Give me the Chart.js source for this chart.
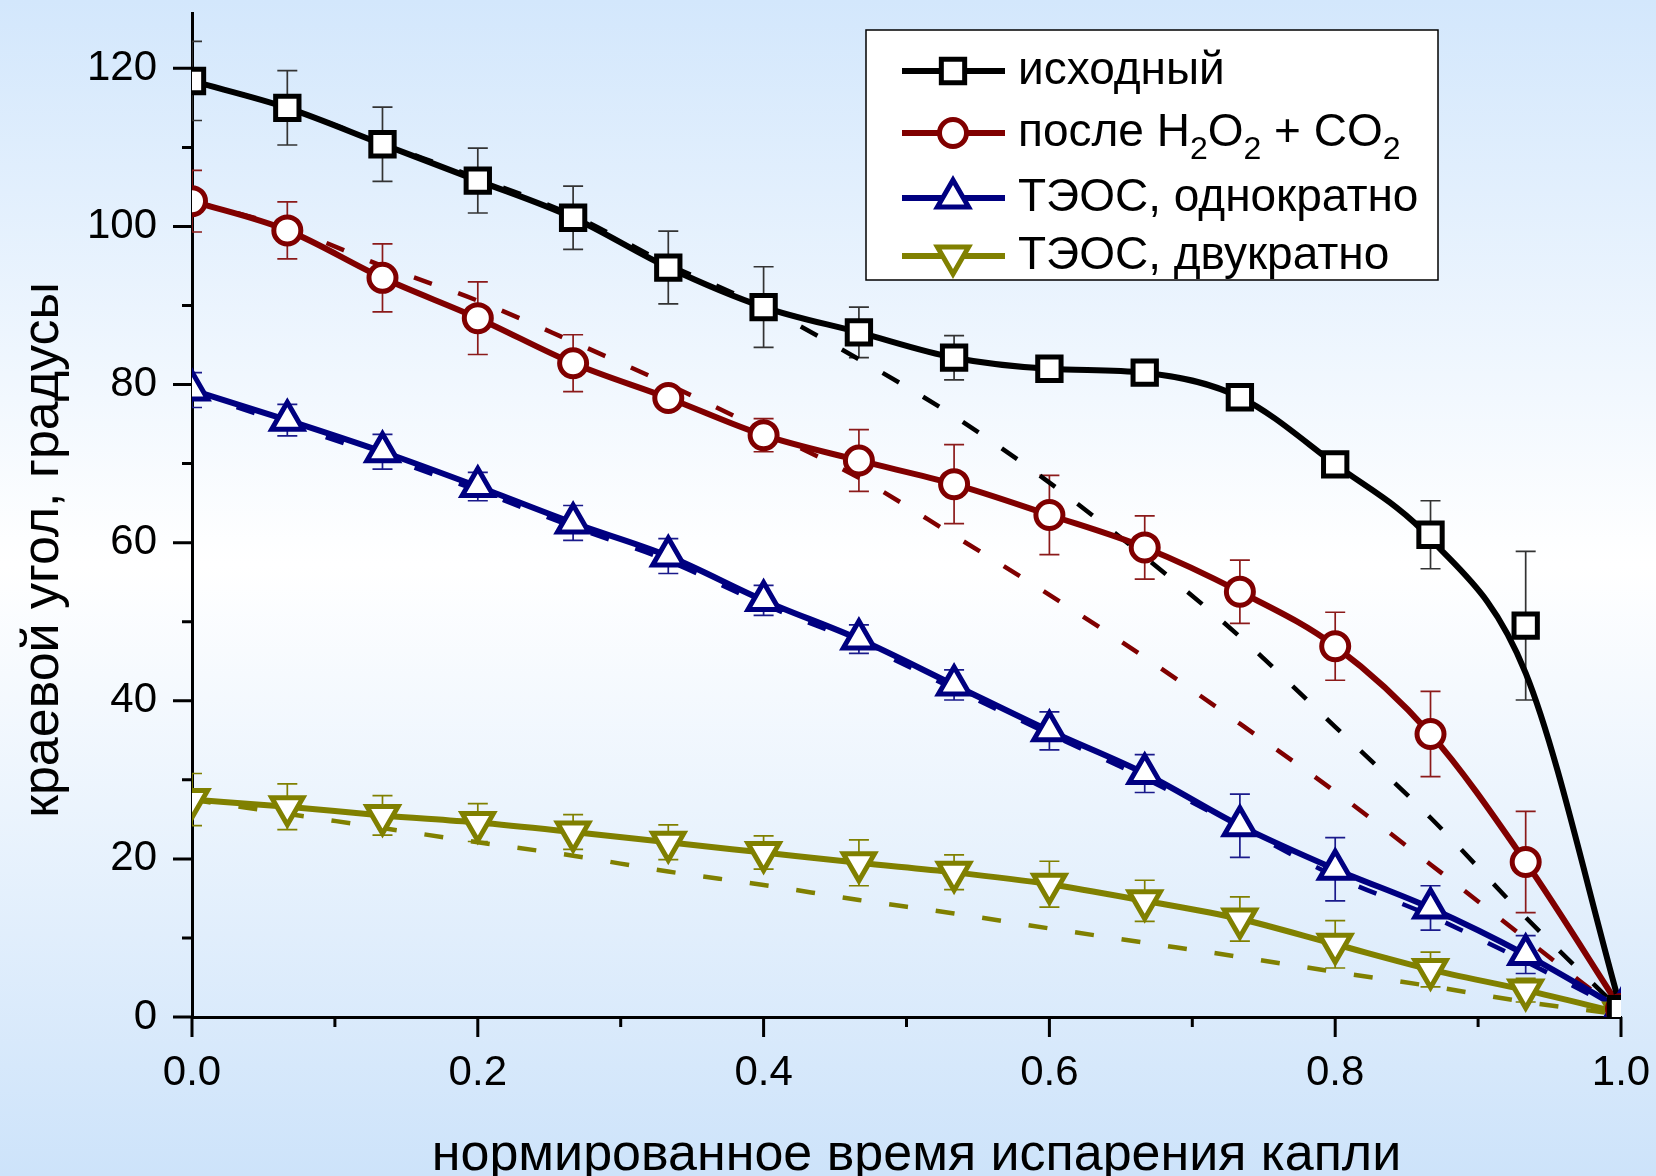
<!DOCTYPE html>
<html>
<head>
<meta charset="utf-8">
<script src="https://cdn.jsdelivr.net/npm/chart.js@4.4.1/dist/chart.umd.min.js"></script>
<style>
  html, body { margin: 0; padding: 0; }
  body { width: 1656px; height: 1176px; overflow: hidden; }
</style>
</head>
<body>
<canvas id="chart" width="1656" height="1176"></canvas>
<script>
// normalized evaporation time (x positions of the measurements)
const timeValues = [0, 0.0667, 0.1333, 0.2, 0.2667, 0.3333, 0.4, 0.4667, 0.5333, 0.6, 0.6667, 0.7333, 0.8, 0.8667, 0.9333, 1.0];

// contact angle, degrees
const initialAngle  = [118.4, 115.0, 110.4, 105.8, 101.1, 94.8, 89.8, 86.6, 83.4, 82.0, 81.5, 78.4, 69.9, 61.0, 49.5, 1.0];
const initialErr    = [5.0, 4.7, 4.7, 4.1, 4.0, 4.6, 5.1, 3.2, 2.8, 0.6, 0.6, 0.6, 0.6, 4.3, 9.4, 0];
const initialCurve  = [118.4, 115.0, 110.4, 105.8, 101.1, 94.8, 89.8, 86.6, 83.4, 82.0, 81.5, 78.4, 69.9, 60.5, 43.5, 1.0];
const initialFit    = [118.4, 115.0, 110.5, 106.1, 101.4, 95.2, 89.8, 83.2, 76.0, 67.6, 58.2, 48.1, 36.7, 25.2, 12.6, 0.8];

const treatedAngle  = [103.2, 99.5, 93.5, 88.4, 82.7, 78.3, 73.6, 70.4, 67.4, 63.5, 59.4, 53.8, 46.9, 35.8, 19.6, 1.0];
const treatedErr    = [3.9, 3.6, 4.3, 4.6, 3.6, 0.8, 2.1, 3.9, 5.0, 5.0, 4.0, 4.0, 4.3, 5.4, 6.4, 0];
const treatedFit    = [103.2, 99.8, 95.0, 90.6, 85.4, 80.0, 74.2, 68.2, 60.9, 53.4, 45.5, 37.1, 28.5, 19.3, 9.9, 0.5];

const teosOnceAngle = [79.3, 75.5, 71.5, 67.1, 62.5, 58.3, 52.7, 47.8, 42.0, 36.2, 30.8, 24.2, 18.7, 13.8, 7.9, 1.0];
const teosOnceErr   = [2.2, 2.0, 2.2, 1.8, 2.2, 2.2, 1.9, 1.8, 1.9, 2.4, 2.4, 4.0, 4.0, 2.8, 2.4, 0];
const teosOnceFit   = [79.0, 75.0, 70.9, 66.6, 62.0, 57.7, 52.2, 47.3, 41.5, 35.8, 30.2, 24.0, 17.8, 12.8, 7.0, 0.8];

const teosTwiceAngle = [27.5, 26.6, 25.5, 24.6, 23.4, 22.1, 20.8, 19.5, 18.3, 16.8, 14.7, 12.4, 9.2, 6.0, 3.4, 0.5];
const teosTwiceErr   = [3.3, 2.9, 2.5, 2.4, 2.2, 2.2, 2.1, 2.9, 2.2, 2.9, 2.6, 2.8, 3.0, 2.2, 1.5, 0];
const teosTwiceFit   = [27.5, 25.7, 23.9, 22.1, 20.4, 18.4, 16.7, 14.8, 13.1, 11.2, 9.4, 7.6, 5.7, 3.9, 1.9, 0.3];

const xTickLabels = ['0.0', '0.2', '0.4', '0.6', '0.8', '1.0'];
const yTickLabels = ['0', '20', '40', '60', '80', '100', '120'];

const FONT = '"Liberation Sans", Arial, sans-serif';

function points(values) {
    return values.map((v, i) => ({ x: timeValues[i], y: v }));
}

const series = [
    { label: 'исходный', color: '#000000', style: 'rect', radius: 16.5, rotation: 0,
      marks: initialAngle, curve: initialCurve, fit: initialFit, errors: initialErr, errColor: '#333333' },
    { label: 'после H2O2 + CO2', color: '#800000', style: 'circle', radius: 13.5, rotation: 0,
      marks: treatedAngle, curve: treatedAngle, fit: treatedFit, errors: treatedErr, errColor: '#8b1a1a' },
    { label: 'ТЭОС, однократно', color: '#000080', style: 'triangle', radius: 18, rotation: 0,
      marks: teosOnceAngle, curve: teosOnceAngle, fit: teosOnceFit, errors: teosOnceErr, errColor: '#1a1a8b' },
    { label: 'ТЭОС, двукратно', color: '#808000', style: 'triangle', radius: 18, rotation: 180,
      marks: teosTwiceAngle, curve: teosTwiceAngle, fit: teosTwiceFit, errors: teosTwiceErr, errColor: '#808000' }
];

const datasets = [];
series.forEach(s => {
    datasets.push({
        data: points(s.marks), showLine: false, order: 0, clip: 0,
        pointStyle: s.style, pointRotation: s.rotation, pointRadius: s.radius,
        pointBackgroundColor: '#ffffff', pointBorderColor: s.color, pointBorderWidth: 5,
        errors: s.errors, errColor: s.errColor
    });
    datasets.push({
        data: points(s.curve), order: 1, clip: 0, pointRadius: 0,
        borderColor: s.color, borderWidth: 6, cubicInterpolationMode: 'monotone'
    });
    datasets.push({
        data: points(s.fit), order: 2, clip: 0, pointRadius: 0,
        borderColor: s.color, borderWidth: 4.5, borderDash: [19, 28], cubicInterpolationMode: 'monotone'
    });
});

// gradient page background
const background = {
    id: 'background',
    beforeDraw(chart) {
        const { ctx, width, height } = chart;
        const g = ctx.createLinearGradient(0, 0, 0, height);
        g.addColorStop(0, '#d3e7fc');
        g.addColorStop(0.48, '#ffffff');
        g.addColorStop(1, '#cde3fa');
        ctx.save();
        ctx.fillStyle = g;
        ctx.fillRect(0, 0, width, height);
        ctx.restore();
    }
};

// vertical error bars with caps, under the markers
const errorBars = {
    id: 'errorBars',
    beforeDatasetsDraw(chart) {
        const { ctx, chartArea, scales } = chart;
        ctx.save();
        ctx.beginPath();
        ctx.rect(chartArea.left, chartArea.top, chartArea.width, chartArea.height);
        ctx.clip();
        ctx.lineWidth = 1.7;
        chart.data.datasets.forEach(ds => {
            if (!ds.errors) return;
            ctx.strokeStyle = ds.errColor;
            ds.data.forEach((p, i) => {
                const e = ds.errors[i];
                if (!e) return;
                const px = scales.x.getPixelForValue(p.x);
                const top = scales.y.getPixelForValue(p.y + e);
                const bot = scales.y.getPixelForValue(p.y - e);
                ctx.beginPath();
                ctx.moveTo(px, top); ctx.lineTo(px, bot);
                ctx.moveTo(px - 10, top); ctx.lineTo(px + 10, top);
                ctx.moveTo(px - 10, bot); ctx.lineTo(px + 10, bot);
                ctx.stroke();
            });
        });
        ctx.restore();
    }
};

// major and minor tick marks, axis titles, legend
const decorations = {
    id: 'decorations',
    afterDraw(chart) {
        const { ctx, chartArea, scales } = chart;
        const xs = scales.x, ys = scales.y;
        ctx.save();
        ctx.strokeStyle = '#000';
        ctx.lineWidth = 3;
        ctx.beginPath();
        for (let v = 0; v <= 10; v++) {
            const px = xs.getPixelForValue(v / 10);
            const len = v % 2 === 0 ? 20 : 10;
            ctx.moveTo(px, chartArea.bottom);
            ctx.lineTo(px, chartArea.bottom + len);
        }
        for (let v = 0; v <= 120; v += 10) {
            const py = ys.getPixelForValue(v);
            const len = v % 20 === 0 ? 19 : 10;
            ctx.moveTo(chartArea.left, py);
            ctx.lineTo(chartArea.left - len, py);
        }
        ctx.stroke();

        // axis titles
        ctx.fillStyle = '#000';
        ctx.font = '52px ' + FONT;
        ctx.textAlign = 'center';
        ctx.textBaseline = 'alphabetic';
        ctx.fillText('нормированное время испарения капли', (chartArea.left + chartArea.right) / 2 + 10, 1170);
        ctx.save();
        ctx.translate(58, 550);
        ctx.rotate(-Math.PI / 2);
        ctx.fillText('краевой угол, градусы', 0, 0);
        ctx.restore();

        // legend
        const box = { x: 866, y: 30, w: 572, h: 250 };
        ctx.fillStyle = '#ffffff';
        ctx.fillRect(box.x, box.y, box.w, box.h);
        ctx.lineWidth = 1.5;
        ctx.strokeStyle = '#000';
        ctx.strokeRect(box.x, box.y, box.w, box.h);

        const rows = [71, 133, 198, 256];
        series.forEach((s, i) => {
            const y = rows[i];
            ctx.strokeStyle = s.color;
            ctx.lineWidth = 6;
            ctx.setLineDash([]);
            ctx.beginPath();
            ctx.moveTo(902, y); ctx.lineTo(1005, y);
            ctx.stroke();
            ctx.fillStyle = '#ffffff';
            ctx.lineWidth = 5;
            Chart.helpers.drawPoint(ctx, {
                pointStyle: s.style, rotation: s.rotation, radius: s.radius, borderWidth: 5
            }, 953, y);
        });

        ctx.fillStyle = '#000';
        ctx.textAlign = 'left';
        ctx.textBaseline = 'middle';
        const big = '46px ' + FONT, small = '32px ' + FONT;
        const pieces = [
            [['исходный', 0]],
            [['после H', 0], ['2', 1], ['O', 0], ['2', 1], [' + CO', 0], ['2', 1]],
            [['ТЭОС, однократно', 0]],
            [['ТЭОС, двукратно', 0]]
        ];
        pieces.forEach((parts, i) => {
            let x = 1018;
            parts.forEach(([text, sub]) => {
                ctx.font = sub ? small : big;
                ctx.fillText(text, x, rows[i] + (sub ? 17 : 0));
                x += ctx.measureText(text).width;
            });
        });
        ctx.restore();
    }
};

new Chart(document.getElementById('chart'), {
    type: 'line',
    data: { datasets: datasets },
    options: {
        responsive: false,
        devicePixelRatio: 1,
        animation: false,
        layout: { autoPadding: false, padding: { left: 0, top: 13, right: 35, bottom: 0 } },
        plugins: { legend: { display: false }, tooltip: { enabled: false } },
        scales: {
            x: {
                type: 'linear', min: 0, max: 1,
                afterFit: s => { s.height = 159; },
                afterBuildTicks: s => { s.ticks = xTickLabels.map(t => ({ value: parseFloat(t) })); },
                ticks: {
                    callback: v => xTickLabels.find(t => parseFloat(t) === v) || '',
                    color: '#000', font: { size: 42, family: FONT }, padding: 0,
                    maxRotation: 0, autoSkip: false
                },
                grid: { display: true, drawOnChartArea: false, drawTicks: true, tickLength: 31, tickColor: 'rgba(0,0,0,0)' },
                border: { display: true, color: '#000', width: 3 }
            },
            y: {
                type: 'linear', min: 0, max: 127,
                afterFit: s => { s.width = 192; },
                afterBuildTicks: s => { s.ticks = yTickLabels.map(t => ({ value: parseFloat(t) })); },
                ticks: {
                    callback: v => String(v),
                    color: '#000', font: { size: 42, family: FONT, lineHeight: 0.1 }, padding: 0
                },
                grid: { display: true, drawOnChartArea: false, drawTicks: true, tickLength: 35, tickColor: 'rgba(0,0,0,0)' },
                border: { display: true, color: '#000', width: 3 }
            }
        }
    },
    plugins: [background, errorBars, decorations]
});
</script>
</body>
</html>
